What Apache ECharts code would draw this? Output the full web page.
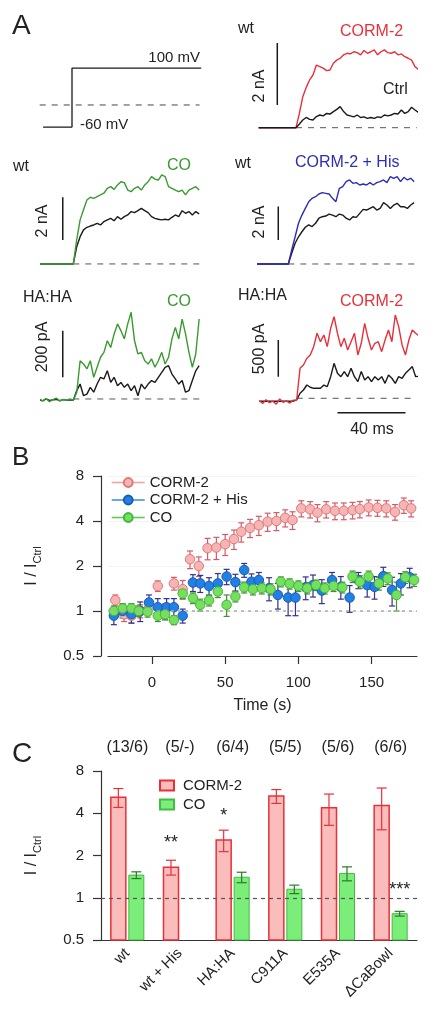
<!DOCTYPE html>
<html><head><meta charset="utf-8">
<script src="https://cdn.jsdelivr.net/npm/echarts@6/dist/echarts.min.js"></script>
<style>html,body{margin:0;padding:0;background:#fff}#c{width:436px;height:1020px}</style>
</head><body><div id="c"></div>
<script>
// ---------- Panel A data (ms, nA / pA / mV) ----------
const traceTime = [-22,-20,-18,-16,-14,-12,-10,-8,-6,-4,-2,0,2,4,6,8,10,12,14,16,18,20,22,24,26,28,30,32,34,36,38,40,42,44,46,48,50,52,54,56,58,60,62,64,66,68,70,72,74];
const protoTime = [-17, 0, 0, 76];
const protoMv = [-60, -60, 100, 100];

const wtCorm = [0,0,0,0,0,0,0,0,0,0,0, 0,0.46,1.0,1.3,1.54,1.7,2.02,1.97,1.92,1.84,1.86,2.08,2.18,2.24,2.35,2.4,2.38,2.45,2.42,2.35,2.49,2.4,2.45,2.51,2.35,2.45,2.51,2.42,2.4,2.45,2.35,2.38,2.29,2.24,2.18,1.97,1.88,1.85];
const wtCormCtrl = [0,0,0,0,0,0,0,0,0,0,0, 0,0.12,0.25,0.33,0.27,0.25,0.36,0.41,0.38,0.46,0.44,0.52,0.59,0.68,0.52,0.41,0.38,0.35,0.41,0.33,0.35,0.3,0.33,0.3,0.35,0.33,0.41,0.38,0.41,0.46,0.44,0.57,0.46,0.52,0.66,0.57,0.49,0.5];
const wtCO = [0,0,0,0,0,0,0,0,0,0,0, 0,1.13,2.07,2.54,3.0,3.13,3.08,3.16,3.24,3.32,3.55,3.63,3.5,3.71,3.86,3.82,3.47,3.39,3.55,3.63,3.47,3.71,3.86,4.1,3.98,3.94,4.18,4.1,3.63,3.55,3.47,3.39,3.47,3.24,3.47,3.55,3.63,3.47];
const wtCOCtrl = [0,0,0,0,0,0,0,0,0,0,0, 0,0.81,1.28,1.6,1.72,1.78,1.83,1.91,1.83,1.99,2.07,2.14,2.03,2.22,2.1,2.22,2.3,2.46,2.41,2.5,2.61,2.5,2.41,2.22,2.14,2.1,2.07,2.1,2.07,2.19,2.3,2.22,2.5,2.38,2.46,2.3,2.46,2.35];
const wtHis = [0,0,0,0,0,0,0,0,0,0,0, 0,0.84,1.63,2.44,2.93,3.33,3.73,3.93,4.03,4.19,4.27,4.23,4.19,3.93,3.73,4.53,4.63,4.93,5.03,4.83,4.87,4.73,4.79,4.73,4.87,4.73,4.87,4.93,5.03,4.87,5.23,5.13,5.23,4.93,5.19,5.03,5.13,4.93];
const wtHisCtrl = [0,0,0,0,0,0,0,0,0,0,0, 0,0.64,1.24,1.63,1.93,2.2,2.34,2.24,2.44,2.74,2.83,2.87,2.99,2.93,2.83,2.99,2.93,2.74,2.64,2.83,2.79,3.03,3.27,3.23,3.33,3.43,3.23,3.33,3.67,3.53,3.33,3.53,3.63,3.43,3.43,3.33,3.53,3.67];
const haCO = [-10,0,-8,2,-12,-3,4,-9,-2,-6,0, -5,28,164,150,129,164,93,136,179,200,250,221,279,322,293,258,322,372,250,193,200,164,150,172,136,164,200,150,179,258,307,258,343,279,200,136,193,343];
const haCOCtrl = [-5,-3,-8,0,-6,-4,-2,-7,-3,-5,-4, -5,36,64,14,21,50,29,64,93,86,121,71,93,57,71,50,64,36,57,14,64,43,64,79,71,93,114,136,143,107,86,64,79,29,36,79,121,143];
const haCorm = [-30,-70,-20,-60,-40,-80,-10,-55,-35,-65,-25, -23,409,454,546,591,704,887,772,864,704,955,1113,887,704,818,659,772,887,591,750,1023,818,659,750,772,636,795,932,772,1136,977,727,591,795,932,887,850,850];
const haCormCtrl = [-40,-40,-40,-40,-40,-40,-40,-40,-40,-40,-40, -23,68,113,181,150,136,136,136,181,159,295,477,341,295,364,295,409,295,227,364,250,295,227,295,250,295,204,318,273,204,295,273,341,386,432,295,300,300];

// scale bars: [time, from, to] in data units (2 nA, 2 nA, 2 nA, 200 pA, 500 pA)
const scaleBars = [[-11, 0.73, 2.73], [-6.2, 1.13, 3.13], [-5.9, 1.44, 3.44], [-6.2, 93, 293], [-10.8, 295, 795]];
const timeBar = [24, 64, -196]; // 40 ms

// ---------- Panel B data ----------
const cormTime = [-25,-19,-14,-8,-2,4,9,15,21,26,32,38,44,50,56,61,67,73,79,85,91,96,102,108,113,119,125,131,137,142,148,154,160,166,172,177];
const cormMean = [1.18,0.95,0.93,1.0,1.05,1.47,1.0,1.53,1.4,2.22,2.0,2.63,2.66,2.8,3.03,3.39,3.6,3.75,3.96,4.0,4.2,4.06,4.86,4.79,4.55,4.79,4.68,4.68,4.73,4.8,4.93,4.9,4.86,4.6,5.1,4.86];
const cormErr = [0.1,0.1,0.1,0.1,0.1,0.12,0.12,0.15,0.2,0.3,0.3,0.43,0.45,0.45,0.45,0.5,0.5,0.55,0.55,0.55,0.55,0.55,0.6,0.6,0.6,0.6,0.6,0.6,0.6,0.6,0.6,0.6,0.6,0.55,0.6,0.6];
const hisTime = [-26,-20,-14,-8,-2,4,10,15,21,28,33,39,45,51,57,63,68,73,80,86,93,98,105,110,116,123,129,135,141,147,152,158,164,170,176];
const hisMean = [0.93,1.0,0.95,1.0,1.14,1.06,1.06,1.06,0.93,1.55,1.53,1.47,1.53,1.7,1.56,1.88,1.57,1.61,1.42,1.28,1.23,1.23,1.44,1.49,1.37,1.61,1.45,1.23,1.61,1.49,1.45,1.71,1.38,1.53,1.68];
const hisErr = [0.12,0.1,0.12,0.15,0.14,0.15,0.15,0.15,0.1,0.2,0.2,0.2,0.25,0.2,0.2,0.2,0.2,0.2,0.25,0.25,0.3,0.3,0.25,0.25,0.25,0.2,0.25,0.25,0.2,0.25,0.25,0.25,0.3,0.25,0.25];
const coTime = [-26,-20,-14,-9,-3,4,9,15,21,28,33,39,45,51,57,63,69,75,81,88,94,100,106,112,118,124,130,137,142,148,155,161,167,173,179];
const coMean = [1.0,1.04,1.04,1.0,0.99,0.93,0.95,0.87,1.31,1.22,1.1,1.18,1.35,1.1,1.25,1.44,1.4,1.42,1.4,1.57,1.52,1.47,1.42,1.49,1.42,1.47,1.44,1.7,1.57,1.7,1.53,1.65,1.28,1.68,1.61];
const coErr = [0.08,0.08,0.08,0.08,0.08,0.08,0.08,0.06,0.1,0.1,0.1,0.1,0.12,0.18,0.1,0.12,0.12,0.12,0.12,0.12,0.12,0.12,0.12,0.12,0.12,0.12,0.12,0.15,0.15,0.15,0.15,0.15,0.28,0.15,0.15];
const bTimeTicks = [0, 50, 100, 150];

// ---------- Panel C data ----------
const cCategories = ['wt', 'wt + His', 'HA:HA', 'C911A', 'E535A', '\u0394CaBowl'];
const cCounts = ['(13/6)', '(5/-)', '(6/4)', '(5/5)', '(5/6)', '(6/6)'];
const cormBar = [5.2, 1.65, 2.58, 5.3, 4.38, 4.55];
const cormBarErr = [0.8, 0.2, 0.45, 0.6, 1.1, 1.5];
const coBar = [1.45, null, 1.4, 1.15, 1.49, 0.77];
const coBarErr = [0.08, null, 0.12, 0.08, 0.17, 0.03];
const cormStars = ['', '**', '*', '', '', ''];
const coStars = ['', '', '', '', '', '***'];

// ---------- helpers ----------
const FONT = '"Liberation Sans", Arial, Helvetica, sans-serif';
const RED = '#e8303a', GREEN = '#3a9a32', BLUE = '#2d2db5', BLACK = '#1a1a1a';
const pairs = (ts, vs) => ts.map((t, i) => [t, vs[i]]);
const errData = (ts, m, e) => ts.map((t, i) => [t, m[i] - e[i], m[i] + e[i]]);

function errRenderer(color, cap, dx) {
  return function (params, api) {
    const x = api.value(0), lo = api.value(1), hi = api.value(2);
    const a = api.coord([x, hi]), b = api.coord([x, lo]);
    const px = a[0] + dx;
    const st = { stroke: color, lineWidth: 1.2 };
    return { type: 'group', children: [
      { type: 'line', shape: { x1: px, y1: a[1], x2: px, y2: b[1] }, style: st },
      { type: 'line', shape: { x1: px - cap, y1: a[1], x2: px + cap, y2: a[1] }, style: st },
      { type: 'line', shape: { x1: px - cap, y1: b[1], x2: px + cap, y2: b[1] }, style: st }
    ]};
  };
}

// ---------- Panel A layout ----------
const aPanels = [
  { grid: { left: 39.7, top: 60.7, width: 161.5, height: 73.8 }, x: [-19, 76], y: [-80, 120] },
  { grid: { left: 258.6, top: 40.9, width: 158.1, height: 89.9 }, x: [-22, 71], y: [-0.1, 2.8] },
  { grid: { left: 41, top: 153.2, width: 159, height: 115 }, x: [-19, 74.5], y: [-0.2, 5.2] },
  { grid: { left: 257.7, top: 152.1, width: 159, height: 116.9 }, x: [-18, 75.5], y: [-0.3, 6.7] },
  { grid: { left: 41, top: 287.1, width: 159, height: 121.2 }, x: [-19, 74.5], y: [-40, 480] },
  { grid: { left: 258.4, top: 281, width: 158.3, height: 135.6 }, x: [-22.5, 70.6], y: [-250, 1600] }
];

const grids = [], xAxes = [], yAxes = [], series = [];
aPanels.forEach((p, i) => {
  grids.push(p.grid);
  xAxes.push({ type: 'value', gridIndex: i, min: p.x[0], max: p.x[1], show: false });
  yAxes.push({ type: 'value', gridIndex: i, min: p.y[0], max: p.y[1], show: false });
});

function trace(idx, data, color, w, dash) {
  series.push({ type: 'line', xAxisIndex: idx, yAxisIndex: idx, data: data, symbol: 'none', clip: true,
    lineStyle: { color: color, width: w || 1.4, type: dash || 'solid' }, silent: true, z: 3 });
}
// A1 protocol
trace(0, [[aPanels[0].x[0], 0], [aPanels[0].x[1] - 1, 0]], '#444', 1, [6, 6]);
trace(0, pairs(protoTime, protoMv), BLACK, 1.3);
// baselines
for (let i = 1; i < 6; i++) trace(i, [[0, 0], [aPanels[i].x[1], 0]], '#555', 1, [6, 6]);
// traces
trace(1, pairs(traceTime, wtCorm), RED);
trace(1, pairs(traceTime, wtCormCtrl), BLACK);
trace(2, pairs(traceTime, wtCOCtrl), BLACK);
trace(2, pairs(traceTime, wtCO), GREEN);
trace(3, pairs(traceTime, wtHisCtrl), BLACK);
trace(3, pairs(traceTime, wtHis), BLUE);
trace(4, pairs(traceTime, haCOCtrl), BLACK);
trace(4, pairs(traceTime, haCO), GREEN);
trace(5, pairs(traceTime, haCormCtrl), BLACK);
trace(5, pairs(traceTime, haCorm), RED);
// scale bars
scaleBars.forEach((s, k) => trace(k + 1, [[s[0], s[1]], [s[0], s[2]]], BLACK, 1.5));
trace(5, [[timeBar[0], timeBar[2]], [timeBar[1], timeBar[2]]], BLACK, 1.5);

// ---------- Panel B ----------
grids.push({ left: 108, top: 476, width: 309, height: 180 });
xAxes.push({ type: 'value', gridIndex: 6, min: -30, max: 181,
  name: 'Time (s)', nameLocation: 'middle', nameGap: 42, nameTextStyle: { fontSize: 16, color: '#222', fontFamily: FONT },
  axisLine: { onZero: false, lineStyle: { color: '#333', width: 1.2 } },
  axisTick: { length: 8, customValues: bTimeTicks, lineStyle: { color: '#333', width: 1.2 } },
  axisLabel: { customValues: bTimeTicks, fontSize: 15, color: '#222', margin: 19, fontFamily: FONT },
  splitLine: { show: false } });
const yNameStyle = { color: '#222', fontFamily: FONT, rich: {
  m: { fontSize: 16, lineHeight: 22, fontFamily: FONT, color: '#222' },
  s: { fontSize: 11, lineHeight: 11, verticalAlign: 'bottom', fontFamily: FONT, color: '#222' } } };
yAxes.push({ type: 'log', logBase: 2, gridIndex: 6, min: 0.5, max: 8, offset: 7,
  name: '{m|I / I}{s|Ctrl}', nameLocation: 'middle', nameGap: 58, nameTextStyle: yNameStyle,
  axisLine: { show: true, onZero: false, lineStyle: { color: '#333', width: 1.2 } },
  axisTick: { show: true, length: 8, lineStyle: { color: '#333', width: 1.2 } },
  axisLabel: { fontSize: 15, color: '#222', margin: 17, fontFamily: FONT },
  splitLine: { show: true, lineStyle: { color: '#f2f2f2' } }, minorTick: { show: false } });

function bSeries(name, ts, m, e, fill, border, lineCol, errCol) {
  series.push({ name: name + ' err', type: 'custom', xAxisIndex: 6, yAxisIndex: 6,
    data: errData(ts, m, e), encode: { x: 0, y: [1, 2] }, renderItem: errRenderer(errCol, 3, 0), z: 2, silent: true });
  series.push({ name: name, type: 'line', xAxisIndex: 6, yAxisIndex: 6, data: pairs(ts, m),
    symbol: 'circle', symbolSize: 9.5, showAllSymbol: true,
    itemStyle: { color: fill, borderColor: border, borderWidth: 1 },
    lineStyle: { color: lineCol, width: 1.5, opacity: 0 }, z: 3, silent: true });
}
bSeries('CORM-2', cormTime, cormMean, cormErr, '#f6b4b4', '#e07878', '#f0a0a0', '#d45a68');
series[series.length - 1].markLine = { silent: true, symbol: 'none', label: { show: false },
  lineStyle: { color: '#9db59a', type: [3, 4], width: 1.5 }, data: [{ yAxis: 1 }] };
bSeries('CORM-2 + His', hisTime, hisMean, hisErr, '#2080e6', '#1a5cb0', '#3a8ae0', '#36308e');
bSeries('CO', coTime, coMean, coErr, '#74e05c', '#40b83a', '#5cc84c', '#4a8a3a');

// ---------- Panel C ----------
grids.push({ left: 101, top: 771, width: 316, height: 169 });
xAxes.push({ type: 'category', gridIndex: 7, data: cCategories, boundaryGap: true,
  axisLine: { onZero: false, lineStyle: { color: '#333', width: 1.2 } },
  axisTick: { length: 8, interval: 0, alignWithLabel: false, lineStyle: { color: '#333', width: 1.2 } },
  axisLabel: { rotate: 45, interval: 0, fontSize: 15, color: '#222', margin: 11, fontFamily: FONT } });
xAxes.push({ type: 'category', gridIndex: 7, data: cCounts, position: 'top',
  axisLine: { show: false }, axisTick: { show: false },
  axisLabel: { interval: 0, fontSize: 16, color: '#222', margin: 15, fontFamily: FONT } });
const C_MIN = 0.5;
yAxes.push({ type: 'log', logBase: 2, gridIndex: 7, min: C_MIN, max: 8,
  name: '{m|I / I}{s|Ctrl}', nameLocation: 'middle', nameGap: 58, nameTextStyle: yNameStyle,
  axisLine: { show: true, onZero: false, lineStyle: { color: '#333', width: 1.2 } },
  axisTick: { show: true, length: 8, lineStyle: { color: '#333', width: 1.2 } },
  axisLabel: { fontSize: 15, color: '#222', margin: 17, fontFamily: FONT },
  splitLine: { show: false }, minorTick: { show: false } });

function barRenderer(fill, stroke, lw, dx, stars) {
  return function (params, api) {
    const i = api.value(0), v = api.value(1);
    const top = api.coord([i, v]), base = api.coord([i, C_MIN]);
    const cx = top[0] + dx;
    const children = [{ type: 'rect', shape: { x: cx - 7.5, y: top[1], width: 15, height: base[1] - top[1] },
      style: { fill: fill, stroke: stroke, lineWidth: lw } }];
    const s = stars[params.dataIndex];
    if (s) children.push({ type: 'text', x: cx, y: top[1] - 15,
      style: { text: s, fontSize: 18, fontFamily: FONT, fill: '#222', align: 'center', verticalAlign: 'bottom' } });
    return { type: 'group', children: children };
  };
}
series.push({ name: 'CORM-2 ', type: 'custom', xAxisIndex: 7, yAxisIndex: 7,
  data: cormBar.map((v, i) => [i, v]), encode: { x: 0, y: 1 },
  itemStyle: { color: '#fbbcbc', borderColor: RED, borderWidth: 1.5 },
  renderItem: barRenderer('#fbbcbc', RED, 1.5, -9, cormStars),
  markLine: { silent: true, symbol: 'none', label: { show: false },
    lineStyle: { color: '#555', type: [4, 4], width: 1.2 }, data: [{ yAxis: 1 }] },
  z: 2, silent: true });
series.push({ name: 'CO ', type: 'custom', xAxisIndex: 7, yAxisIndex: 7,
  data: coBar.map((v, i) => [i, v]).filter(d => d[1] !== null), encode: { x: 0, y: 1 },
  itemStyle: { color: '#7aee78', borderColor: '#44bb44', borderWidth: 1 },
  renderItem: barRenderer('#7aee78', '#44bb44', 1, 9, coStars.filter((s, i) => coBar[i] !== null)),
  z: 2, silent: true });
series.push({ name: 'cerr1', type: 'custom', xAxisIndex: 7, yAxisIndex: 7,
  data: cormBar.map((v, i) => [i, v - cormBarErr[i], v + cormBarErr[i]]),
  encode: { x: 0, y: [1, 2] }, renderItem: errRenderer(RED, 5, -9), z: 4, silent: true });
series.push({ name: 'cerr2', type: 'custom', xAxisIndex: 7, yAxisIndex: 7,
  data: coBar.map((v, i) => [i, v, coBarErr[i]]).filter(d => d[1] !== null).map(d => [d[0], d[1] - d[2], d[1] + d[2]]),
  encode: { x: 0, y: [1, 2] }, renderItem: errRenderer('#2a7a2a', 5, 9), z: 4, silent: true });

// ---------- texts ----------
function T(x, y, text, size, color, align, rot) {
  return { type: 'text', x: x, y: y, rotation: rot ? Math.PI / 2 : 0, silent: true,
    style: { text: text, fontSize: size, fontFamily: FONT, fill: color || '#222', align: align || 'left', verticalAlign: 'middle' } };
}
const graphics = [
  T(12, 26, 'A', 28), T(12, 458, 'B', 26), T(12, 754, 'C', 28),
  T(200, 58, '100 mV', 15, '#222', 'right'), T(80, 125, '-60 mV', 15),
  T(238, 29, 'wt', 16), T(340, 32, 'CORM-2', 16, RED), T(383, 90, 'Ctrl', 16), T(260, 86, '2 nA', 16, '#222', 'center', 1),
  T(13, 167, 'wt', 16), T(167, 166, 'CO', 16, GREEN), T(43, 221, '2 nA', 16, '#222', 'center', 1),
  T(235, 164, 'wt', 16), T(295, 163, 'CORM-2 + His', 16, BLUE), T(260, 222, '2 nA', 16, '#222', 'center', 1),
  T(23, 298, 'HA:HA', 16), T(167, 302, 'CO', 16, GREEN), T(43, 347, '200 pA', 16, '#222', 'center', 1),
  T(238, 296, 'HA:HA', 16), T(340, 302, 'CORM-2', 16, RED), T(260, 349, '500 pA', 16, '#222', 'center', 1),
  T(372, 430, '40 ms', 16, '#222', 'center')
];

const option = {
  animation: false,
  backgroundColor: '#fff',
  textStyle: { fontFamily: FONT },
  grid: grids, xAxis: xAxes, yAxis: yAxes, series: series,
  legend: [
    { data: ['CORM-2', 'CORM-2 + His', 'CO'], orient: 'vertical', left: 106, top: 470,
      itemWidth: 33, itemHeight: 11, itemGap: 2.5, selectedMode: false,
      lineStyle: { opacity: 1, width: 1.5 },
      textStyle: { fontSize: 15, color: '#222', fontFamily: FONT } },
    { data: ['CORM-2 ', 'CO '], orient: 'vertical', left: 154, top: 773, icon: 'rect',
      itemWidth: 14, itemHeight: 10, itemGap: 4, selectedMode: false,
      textStyle: { fontSize: 15, color: '#222', fontFamily: FONT, padding: [0, 0, 0, 4] } }
  ],
  graphic: graphics
};
const chart = echarts.init(document.getElementById('c'), null, { renderer: 'canvas' });
chart.setOption(option);
</script></body></html>
